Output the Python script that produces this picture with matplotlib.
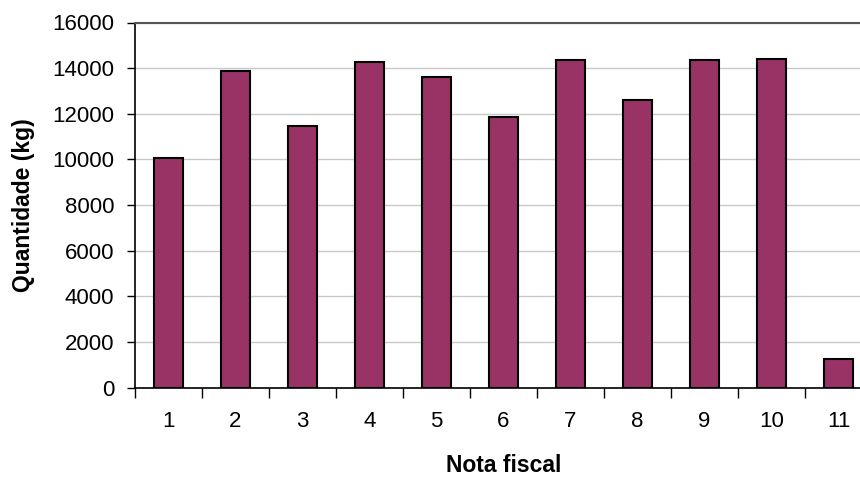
import matplotlib
matplotlib.use("Agg")
import matplotlib.pyplot as plt
import numpy as np

plt.rcParams['font.family'] = ['Liberation Sans', 'DejaVu Sans']

categories = ['1', '2', '3', '4', '5', '6', '7', '8', '9', '10', '11']
values = [10060, 13860, 11460, 14250, 13610, 11870, 14340, 12600, 14340, 14420, 1240]
yticks = [0, 2000, 4000, 6000, 8000, 10000, 12000, 14000, 16000]

fig = plt.figure(figsize=(8.6, 4.79), dpi=100)
ax = fig.add_axes([135/860, 1-387.5/479, (872-135)/860, (387.5-22.5)/479])

x = np.arange(1, len(categories)+1)
ax.bar(x, values, width=0.43, color='#993366', edgecolor='black', linewidth=1.5, zorder=3)

ax.set_xlim(0.5, len(categories)+0.5)
ax.set_ylim(0, 16000)
ax.set_yticks(yticks)
ax.set_yticklabels([str(v) for v in yticks], fontsize=16)
ax.yaxis.grid(True, color='#c8c8c8', linewidth=1, zorder=0)

ax.set_xticks(np.arange(0.5, len(categories)+1, 1))
ax.set_xticklabels([])
ax.set_xticks(x, minor=True)
ax.set_xticklabels(categories, minor=True, fontsize=16)
ax.tick_params(axis='x', which='major', length=7, width=1, color='black', direction='out')
ax.tick_params(axis='x', which='minor', length=0, pad=17)
ax.tick_params(axis='y', length=6, width=1, direction='out', pad=9)

for s in ['left', 'bottom']:
    ax.spines[s].set_color('black')
    ax.spines[s].set_linewidth(1.2)
ax.spines['top'].set_color('#555555')
ax.spines['top'].set_linewidth(1.5)
ax.spines['right'].set_visible(False)

ax.set_xlabel('Nota fiscal', fontsize=16.5, fontweight='bold', labelpad=16)
ax.set_ylabel('Quantidade (kg)', fontsize=16.5, fontweight='bold', labelpad=12)

fig.savefig('out.png', dpi=100)
